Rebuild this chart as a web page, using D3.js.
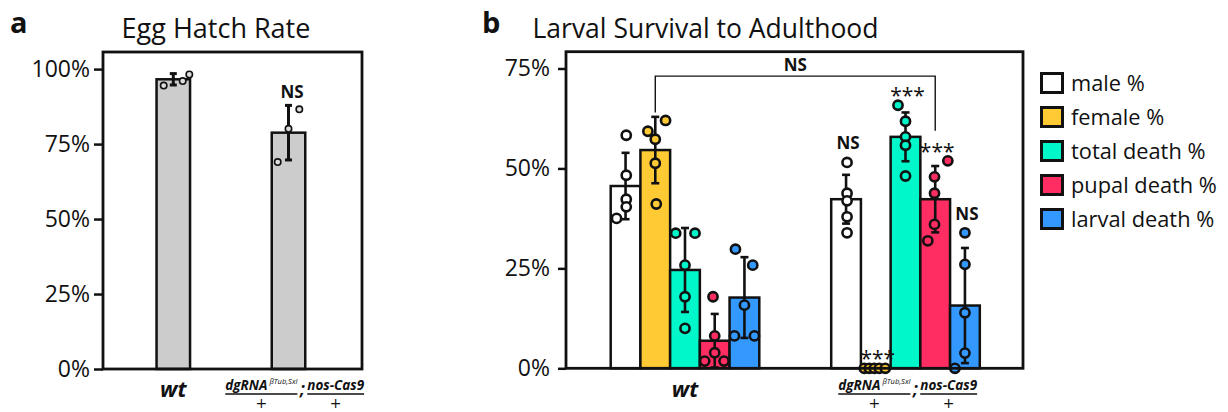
<!DOCTYPE html>
<html lang="en">
<head>
<meta charset="UTF-8" />
<title>Egg Hatch Rate / Larval Survival to Adulthood</title>
<script src="https://d3js.org/d3.v7.min.js"></script>
<style>
  body { margin: 0; background: #fff; }
  svg { display: block; font-family: 'Open Sans', sans-serif; }
</style>
</head>
<body>
<svg id="chart" width="1228" height="412"></svg>
<script>
// ---- panel a: egg hatch rate ----
const hatchGroups = ['wt', 'dgRNA;nos-Cas9'];
const hatchMeans = [96.6, 78.8];
const hatchSd = [1.9, 9.1];
const hatchPoints = [[94.5, 96.0, 98.2], [69.0, 80.1, 86.6]];
const hatchSig = ['', 'NS'];
const hatchTicks = [0, 25, 50, 75, 100];

// ---- panel b: larval survival ----
const survivalGroups = ['wt', 'dgRNA;nos-Cas9'];
const survivalSeries = ['male %', 'female %', 'total death %', 'pupal death %', 'larval death %'];
const survivalMeansWt = [45.6, 54.6, 24.6, 6.9, 17.7];
const survivalMeansTg = [42.3, 0, 57.9, 42.3, 15.7];
const survivalSdWt = [8.3, 8.3, 10.5, 6.7, 10.1];
const survivalSdTg = [6.1, 0, 6.1, 8.3, 14.4];
const survivalPointsWt = [
  [58.3, 48.3, 42.3, 40.4, 37.5],
  [59.3, 62.0, 57.3, 51.3, 41.1],
  [33.8, 33.8, 25.8, 17.9, 10.0],
  [17.9, 8.1, 3.9, 1.8, 1.8],
  [29.8, 25.8, 15.8, 8.1, 8.1]
];
const survivalPointsTg = [
  [51.5, 43.8, 41.9, 37.9, 33.9],
  [0, 0, 0, 0, 0],
  [65.8, 61.8, 57.9, 55.8, 48.1],
  [51.9, 47.9, 43.8, 36.0, 31.9],
  [33.9, 26.0, 13.9, 3.8, 0]
];
const survivalSigWt = ['', '', '', '', ''];
const survivalSigTg = ['NS', '***', '***', '***', 'NS'];
const survivalTicks = [0, 25, 50, 75];
// bracket: wt female -> transgenic pupal death, leg heights in %
const bracketLevels = [64, 73.1, 59.4];
const bracketLabel = 'NS';

// jitter of the dots (px from bar centre)
const hatchJitter = [[-9.6, 9.4, 16], [-10.8, 0, 10.8]];
const jitterWt = [
  [0.7, 0.7, 0.7, 0.7, -9],
  [-7.4, 10.3, 0, 0, 1],
  [-9.3, 10, 0, 0, 0],
  [-1.7, 0, 0, -10, 9.3],
  [-9, 8.3, 0, -10, 10]
];
const jitterTg = [
  [1, 1, 1, 1, 1],
  [-11.5, -6.5, -1.5, 3.5, 9.5],
  [-7.5, 0, 0, 0, 0],
  [12.6, -0.7, -0.7, -0.7, -7.4],
  [0, 0, 0, 0, -10]
];

const seriesColors = ['#ffffff', '#ffca33', '#00f7c9', '#ff2d62', '#3399ff'];
const ink = '#111';
const font = "'Open Sans', sans-serif";

const svg = d3.select('#chart');

function styleAxis(ax) {
  ax.select('.domain').remove();
  ax.attr('font-family', font).attr('font-size', 23);
  ax.selectAll('line').attr('stroke', ink).attr('stroke-width', 2.5);
  ax.selectAll('text').attr('fill', ink);
}

function errorBar(g, cx, mean, sd, y, cap, sw) {
  if (sd <= 0) return;
  g.append('line').attr('x1', cx).attr('x2', cx)
    .attr('y1', y(mean + sd)).attr('y2', y(mean - sd))
    .attr('stroke', ink).attr('stroke-width', sw);
  [mean + sd, mean - sd].forEach(v => {
    g.append('line').attr('x1', cx - cap / 2).attr('x2', cx + cap / 2)
      .attr('y1', y(v)).attr('y2', y(v))
      .attr('stroke', ink).attr('stroke-width', sw);
  });
}

function sigText(g, x, yBase, label) {
  if (!label) return;
  const stars = label.startsWith('*');
  g.append('text')
    .attr('x', x).attr('y', stars ? yBase + 11 : yBase)
    .attr('text-anchor', 'middle')
    .attr('font-size', stars ? 21 : 17)
    .attr('font-weight', stars ? 400 : 700)
    .attr('fill', ink)
    .text(label);
}

function genotypeLabel(cx, baseY) {
  const g = svg.append('g').attr('fill', ink);
  const t1 = g.append('text').attr('y', baseY)
    .attr('font-style', 'italic').attr('font-weight', 700).attr('font-size', 13.5);
  t1.append('tspan').text('dgRNA');
  t1.append('tspan').attr('dx', 2).attr('dy', -6).attr('font-size', 7.5)
    .attr('font-weight', 400).text('βTub,Sxl');
  const semi = g.append('text').attr('y', baseY + 5)
    .attr('font-style', 'italic').attr('font-weight', 700).attr('font-size', 17).text(';');
  const t3 = g.append('text').attr('y', baseY)
    .attr('font-style', 'italic').attr('font-weight', 700).attr('font-size', 13.5).text('nos-Cas9');
  const w1 = t1.node().getComputedTextLength() + 2;
  const ws = semi.node().getComputedTextLength();
  const w3 = t3.node().getComputedTextLength();
  const gap = 2.5;
  let x = cx - (w1 + ws + w3 + 2 * gap) / 2;
  t1.attr('x', x);
  const u1 = [x, x + w1];
  x += w1 + gap;
  semi.attr('x', x);
  x += ws + gap;
  t3.attr('x', x);
  const u3 = [x, x + w3];
  [u1, u3].forEach(u => {
    g.append('line').attr('x1', u[0]).attr('x2', u[1])
      .attr('y1', baseY + 4.5).attr('y2', baseY + 4.5)
      .attr('stroke', ink).attr('stroke-width', 1.3);
    g.append('text').attr('x', (u[0] + u[1]) / 2).attr('y', baseY + 18.5)
      .attr('text-anchor', 'middle').attr('font-family', "'DejaVu Sans', sans-serif")
      .attr('font-size', 14).text('+');
  });
}

// =================== panel a ===================
const aBox = { left: 103, right: 362, top: 52, bottom: 369 };
const yA = d3.scaleLinear().domain([0, 105.7]).range([aBox.bottom, aBox.top]);
const xA = d3.scalePoint().domain(hatchGroups).range([173.3, 288.5]);
const barWA = 33.5;

const gA = svg.append('g');
gA.selectAll('rect.bar').data(hatchGroups).join('rect')
  .attr('class', 'bar')
  .attr('x', d => xA(d) - barWA / 2)
  .attr('width', barWA)
  .attr('y', (d, i) => yA(hatchMeans[i]))
  .attr('height', (d, i) => yA(0) - yA(hatchMeans[i]))
  .attr('fill', '#cccccc').attr('stroke', ink).attr('stroke-width', 2.5);

hatchGroups.forEach((grp, i) => {
  errorBar(gA, xA(grp), hatchMeans[i], hatchSd[i], yA, 7, 3);
  gA.selectAll(null).data(hatchPoints[i]).join('circle')
    .attr('cx', (d, j) => xA(grp) + hatchJitter[i][j])
    .attr('cy', d => yA(d))
    .attr('r', 3.2)
    .attr('fill', '#dddddd').attr('stroke', ink).attr('stroke-width', 1.6);
  const top = Math.max(d3.max(hatchPoints[i]), hatchMeans[i] + hatchSd[i]);
  sigText(gA, xA(grp) + 3.5, yA(top) - 7, hatchSig[i]);
});

const axA = svg.append('g').attr('transform', `translate(${aBox.left},0)`)
  .call(d3.axisLeft(yA).tickValues(hatchTicks).tickFormat(d => d + '%').tickSize(9).tickPadding(4));
styleAxis(axA);

svg.append('rect')
  .attr('x', aBox.left).attr('y', aBox.top)
  .attr('width', aBox.right - aBox.left).attr('height', aBox.bottom - aBox.top)
  .attr('fill', 'none').attr('stroke', ink).attr('stroke-width', 2.8);

svg.append('text').attr('x', 216).attr('y', 38).attr('text-anchor', 'middle')
  .attr('font-size', 27).attr('fill', ink).text('Egg Hatch Rate');
svg.append('text').attr('x', 10).attr('y', 33)
  .attr('font-size', 29).attr('font-weight', 700).attr('fill', ink).text('a');

svg.append('text').attr('x', xA('wt')).attr('y', 397).attr('text-anchor', 'middle')
  .attr('font-size', 22).attr('font-weight', 700).attr('font-style', 'italic')
  .attr('fill', ink).text('wt');
genotypeLabel(294.7, 389.5);

// =================== panel b ===================
const bBox = { left: 566, right: 1023, top: 51.7, bottom: 368.3 };
const yB = d3.scaleLinear().domain([0, 79.2]).range([bBox.bottom, bBox.top]);
const xB = d3.scalePoint().domain(survivalGroups).range([685, 905.5]);
const xS = d3.scaleBand().domain(survivalSeries).range([-74.3, 74.3]).padding(0);

const groupMeans = [survivalMeansWt, survivalMeansTg];
const groupSd = [survivalSdWt, survivalSdTg];
const groupPoints = [survivalPointsWt, survivalPointsTg];
const groupSig = [survivalSigWt, survivalSigTg];
const groupJitter = [jitterWt, jitterTg];

const gB = svg.append('g');
survivalGroups.forEach((grp, gi) => {
  const gg = gB.append('g').attr('transform', `translate(${xB(grp)},0)`);
  gg.selectAll('rect').data(survivalSeries).join('rect')
    .attr('x', d => xS(d))
    .attr('width', xS.bandwidth())
    .attr('y', (d, i) => yB(groupMeans[gi][i]))
    .attr('height', (d, i) => yB(0) - yB(groupMeans[gi][i]))
    .attr('fill', (d, i) => seriesColors[i])
    .attr('stroke', ink).attr('stroke-width', 2.5);
});

survivalGroups.forEach((grp, gi) => {
  survivalSeries.forEach((s, si) => {
    const cx = xB(grp) + xS(s) + xS.bandwidth() / 2;
    errorBar(gB, cx, groupMeans[gi][si], groupSd[gi][si], yB, 8, 2.6);
    gB.selectAll(null).data(groupPoints[gi][si]).join('circle')
      .attr('cx', (d, j) => cx + groupJitter[gi][si][j])
      .attr('cy', d => yB(d))
      .attr('r', 4.6)
      .attr('fill', seriesColors[si]).attr('stroke', ink).attr('stroke-width', 2.6);
    const top = Math.max(d3.max(groupPoints[gi][si]), groupMeans[gi][si] + groupSd[gi][si]);
    const label = groupSig[gi][si];
    if (label) sigText(gB, cx + 2, yB(top) - 13, label);
  });
});

// comparison bracket
const bx1 = xB('wt') + xS('female %') + xS.bandwidth() / 2;
const bx2 = xB('dgRNA;nos-Cas9') + xS('pupal death %') + xS.bandwidth() / 2;
svg.append('path')
  .attr('d', d3.line()([[bx1, yB(bracketLevels[0])], [bx1, yB(bracketLevels[1])],
    [bx2, yB(bracketLevels[1])], [bx2, yB(bracketLevels[2])]]))
  .attr('fill', 'none').attr('stroke', ink).attr('stroke-width', 1.4);
svg.append('text').attr('x', (bx1 + bx2) / 2).attr('y', yB(bracketLevels[1]) - 5)
  .attr('text-anchor', 'middle').attr('font-size', 17).attr('font-weight', 700)
  .attr('fill', ink).text(bracketLabel);

const axB = svg.append('g').attr('transform', `translate(${bBox.left},0)`)
  .call(d3.axisLeft(yB).tickValues(survivalTicks).tickFormat(d => d + '%').tickSize(8).tickPadding(8));
styleAxis(axB);

svg.append('rect')
  .attr('x', bBox.left).attr('y', bBox.top)
  .attr('width', bBox.right - bBox.left).attr('height', bBox.bottom - bBox.top)
  .attr('fill', 'none').attr('stroke', ink).attr('stroke-width', 2.8);

svg.append('text').attr('x', 705.5).attr('y', 38).attr('text-anchor', 'middle')
  .attr('font-size', 26.5).attr('fill', ink).text('Larval Survival to Adulthood');
svg.append('text').attr('x', 482).attr('y', 33)
  .attr('font-size', 29).attr('font-weight', 700).attr('fill', ink).text('b');

svg.append('text').attr('x', xB('wt')).attr('y', 397).attr('text-anchor', 'middle')
  .attr('font-size', 22).attr('font-weight', 700).attr('font-style', 'italic')
  .attr('fill', ink).text('wt');
genotypeLabel(907.7, 389.5);

// legend
const legend = svg.append('g').attr('transform', 'translate(1040,83)');
survivalSeries.forEach((s, i) => {
  const row = legend.append('g').attr('transform', `translate(0,${i * 34})`);
  row.append('rect').attr('x', 1.5).attr('y', -9.5).attr('width', 21).attr('height', 19)
    .attr('fill', seriesColors[i]).attr('stroke', ink).attr('stroke-width', 3);
  row.append('text').attr('x', 31).attr('y', 7.5)
    .attr('font-size', 21.8).attr('fill', ink).text(s);
});
</script>
</body>
</html>
